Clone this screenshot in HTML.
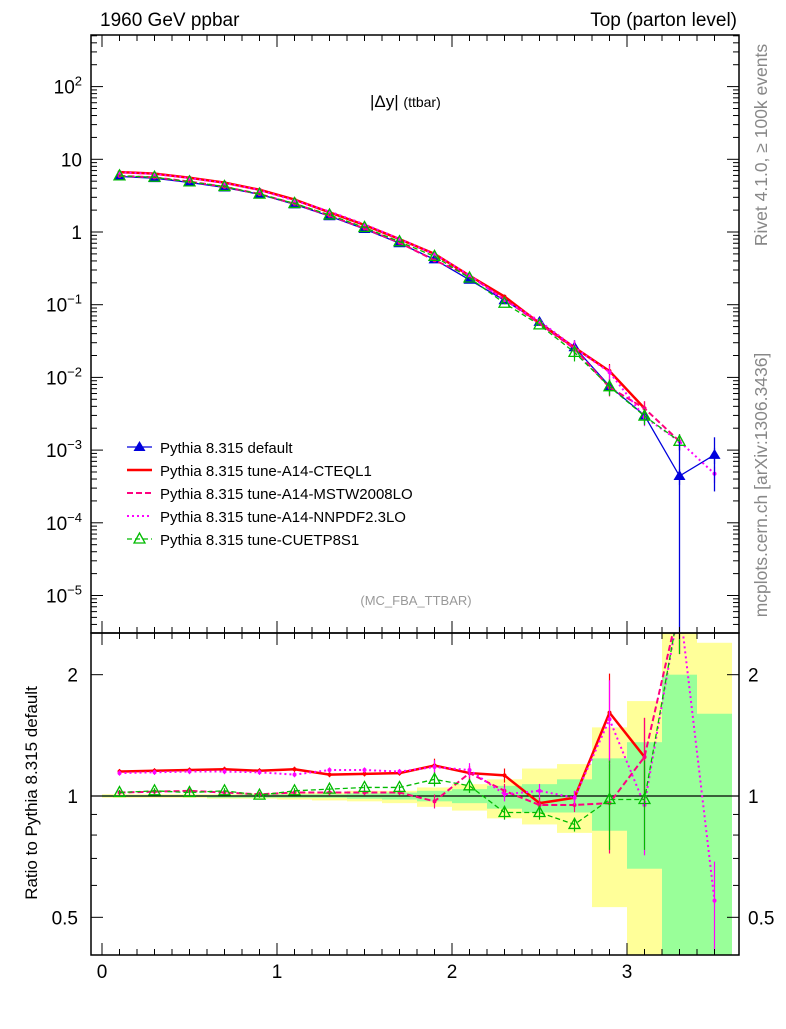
<!DOCTYPE html>
<html><head><meta charset="utf-8"><style>
body{margin:0;background:#fff}
svg{font-family:"Liberation Sans",sans-serif}
</style></head><body>
<svg id="c" width="786" height="1024" xmlns="http://www.w3.org/2000/svg">
<rect width="786" height="1024" fill="#fff"/>
<g id="bands"></g>
<g id="main"></g>
<g id="ratio"></g>
<g id="axes"></g>
<text x="100" y="26" font-size="19">1960 GeV ppbar</text>
<text x="737" y="26" font-size="19" text-anchor="end">Top (parton level)</text>
<text x="370" y="107" font-size="17">|Δy| <tspan font-size="14">(ttbar)</tspan></text>
<text x="416" y="605" font-size="13" fill="#999" text-anchor="middle">(MC_FBA_TTBAR)</text>
<text transform="translate(767,145) rotate(-90)" font-size="17.5" fill="#888" text-anchor="middle">Rivet 4.1.0, ≥ 100k events</text>
<text transform="translate(767,485) rotate(-90)" font-size="17.5" fill="#888" text-anchor="middle">mcplots.cern.ch [arXiv:1306.3436]</text>
<text transform="translate(37,793) rotate(-90)" font-size="17" text-anchor="middle">Ratio to Pythia 8.315 default</text>
<g id="legend"></g>
</svg>
<script>
const xs = [0.1,0.3,0.5,0.7,0.9,1.1,1.3,1.5,1.7,1.9,2.1,2.3,2.5,2.7,2.9,3.1,3.3,3.5];
const vDefault = [5.8,5.5,4.8,4.1,3.3,2.4,1.65,1.1,0.7,0.42,0.22,0.115,0.058,0.026,0.0076,0.003,0.00044,0.00086];
const rCTEQ  = [1.15,1.155,1.16,1.165,1.155,1.165,1.13,1.135,1.14,1.19,1.14,1.125,0.96,0.99,1.61,1.25,null,null];
const rMSTW  = [1.02,1.025,1.03,1.02,1.01,1.02,1.02,1.02,1.02,0.97,1.14,1.03,0.95,0.95,0.96,1.25,3.0,null];
const rNNPDF = [1.14,1.145,1.15,1.15,1.145,1.13,1.16,1.16,1.15,1.18,1.16,1.01,1.03,0.99,1.55,0.95,3.0,0.55];
const rCUET  = [1.02,1.03,1.02,1.03,1.005,1.03,1.04,1.05,1.05,1.10,1.06,0.91,0.91,0.85,0.98,0.98,3.0,null];
const yellowHi = [1.01,1.01,1.01,1.01,1.015,1.02,1.02,1.03,1.03,1.05,1.07,1.10,1.17,1.20,1.48,1.72,3.0,2.4];
const yellowLo = [0.99,0.99,0.99,0.985,0.985,0.98,0.975,0.97,0.96,0.94,0.92,0.88,0.85,0.81,0.53,0.3,0.3,0.3];
const greenHi  = [1.005,1.005,1.005,1.005,1.01,1.01,1.01,1.015,1.02,1.03,1.04,1.06,1.07,1.10,1.24,1.36,2.0,1.6];
const greenLo  = [0.995,0.995,0.995,0.99,0.99,0.99,0.99,0.985,0.98,0.97,0.96,0.93,0.91,0.91,0.82,0.66,0.3,0.3];
const yTickMain = ["10^-5","10^-4","10^-3","10^-2","10^-1","1","10","10^2"];
const NS="http://www.w3.org/2000/svg";
const X0=91,X1=739,MT=35,MB=633,RB=955;
const xp=v=>102+175*v;
const ym=v=>232-72.7*Math.log10(v);
const yr=v=>796-403*Math.log10(v);
function el(t,a,p){const e=document.createElementNS(NS,t);for(const k in a)e.setAttribute(k,a[k]);p.appendChild(e);return e;}
const svg=document.getElementById('c');
const defs=el('defs',{},svg);
const c1=el('clipPath',{id:'cm'},defs);el('rect',{x:X0,y:MT,width:X1-X0,height:MB-MT},c1);
const c2=el('clipPath',{id:'cr'},defs);el('rect',{x:X0,y:MB,width:X1-X0,height:RB-MB},c2);
const gB=document.getElementById('bands');gB.setAttribute('clip-path','url(#cr)');
const gM=document.getElementById('main');gM.setAttribute('clip-path','url(#cm)');
const gR=document.getElementById('ratio');gR.setAttribute('clip-path','url(#cr)');
xs.forEach((x,i)=>{
  const a=xp(x-0.1),w=175*0.2;
  const r1=el('rect',{x:a,y:yr(yellowHi[i]),width:w,height:yr(yellowLo[i])-yr(yellowHi[i]),fill:'#ffff99'},gB);
  
  
  const r2=el('rect',{x:a,y:yr(greenHi[i]),width:w,height:yr(greenLo[i])-yr(greenHi[i]),fill:'#99ff99'},gB);
  
  
});
const series=[
 {n:'default',r:null,c:'#0000dd',w:1.3,d:'',m:'tri'},
 {n:'cteql1',r:rCTEQ,c:'#ff0000',w:2.5,d:'',m:'dot'},
 {n:'mstw',r:rMSTW,c:'#ff0080',w:2,d:'6,3',m:'dot'},
 {n:'nnpdf',r:rNNPDF,c:'#ff00ff',w:2,d:'2,3',m:'dot'},
 {n:'cuetp8s1',r:rCUET,c:'#00bb00',w:1.3,d:'5,3',m:'otri'}
];
function poly(g,pts,s,name){
  let segs=[],cur=[];
  pts.forEach(p=>{if(p)cur.push(p);else{if(cur.length)segs.push(cur);cur=[];}});
  if(cur.length)segs.push(cur);
  segs.forEach(sg=>{
    const pl=el('polyline',{points:sg.map(p=>p.join(',')).join(' '),fill:'none',stroke:s.c,'stroke-width':s.w,'stroke-dasharray':s.d},g);
    
    
  });
}
function marker(g,x,y,s){
  let m;
  if(s.m=='tri')m=el('path',{d:`M${x},${y-6}L${x+6},${y+4}L${x-6},${y+4}Z`,fill:s.c},g);
  else if(s.m=='otri')m=el('path',{d:`M${x},${y-6}L${x+5.5},${y+4}L${x-5.5},${y+4}Z`,fill:'none',stroke:s.c,'stroke-width':1.3},g);
  else m=el('circle',{cx:x,cy:y,r:2,fill:s.c},g);
  
  
}
series.forEach(s=>{
  const vals=xs.map((x,i)=>s.r?(s.r[i]==null?null:vDefault[i]*s.r[i]):vDefault[i]);
  poly(gM,xs.map((x,i)=>vals[i]==null?null:[xp(x),ym(vals[i])]),s,s.n+'-line');
  xs.forEach((x,i)=>{if(vals[i]!=null){
    const e=vals[i]*(i>=13?0.25:0.03);
    const eb=el('line',{x1:xp(x),x2:xp(x),y1:ym(vals[i]+e),y2:ym(Math.max(vals[i]-e,1e-7)),stroke:s.c,'stroke-width':1.2},gM);
    
    
    marker(gM,xp(x),ym(vals[i]),s);}});
});
[[16,0.0013,1e-7],[17,0.0015,0.00027]].forEach(([i,h,l])=>{
  const eb=el('line',{x1:xp(xs[i]),x2:xp(xs[i]),y1:ym(h),y2:ym(l),stroke:'#0000dd','stroke-width':1.3},gM);
  
  
});
const ref=el('line',{x1:X0,x2:X1,y1:yr(1),y2:yr(1),stroke:'#000','stroke-width':1.2},gR);


series.slice(1).forEach(s=>{
  poly(gR,xs.map((x,i)=>s.r[i]==null?null:[xp(x),yr(s.r[i])]),s,s.n+'-ratio-line');
  xs.forEach((x,i)=>{if(s.r[i]!=null){
    const e=i>=14?0.25:(i>=9?0.04:0.015);
    const eb=el('line',{x1:xp(x),x2:xp(x),y1:yr(s.r[i]*(1+e)),y2:yr(s.r[i]*(1-e)),stroke:s.c,'stroke-width':1.2},gR);
    
    
    marker(gR,xp(x),yr(s.r[i]),s);}});
});
const gA=document.getElementById('axes');
el('rect',{x:X0,y:MT,width:X1-X0,height:MB-MT,fill:'none',stroke:'#000','stroke-width':1.5},gA);
el('rect',{x:X0,y:MB,width:X1-X0,height:RB-MB,fill:'none',stroke:'#000','stroke-width':1.5},gA);
for(let v=0;v<=3.6;v+=0.1){const x=xp(v),big=Math.abs(v-Math.round(v))<1e-6,L=big?12:6;
  [[MT,1],[MB,-1],[MB,1],[RB,-1]].forEach(([y,d])=>el('line',{x1:x,x2:x,y1:y,y2:y+d*L,stroke:'#000'},gA));}
[0,1,2,3].forEach(v=>{const t=el('text',{x:xp(v),y:978,'font-size':19,'text-anchor':'middle'},gA);t.textContent=v;
  });
for(let e=-6;e<=2;e++){for(let k=1;k<10;k++){const v=k*Math.pow(10,e),y=ym(v);if(y<MT||y>MB)continue;
  const L=k==1?12:6;el('line',{x1:X0,x2:X0+L,y1:y,y2:y,stroke:'#000'},gA);el('line',{x1:X1,x2:X1-L,y1:y,y2:y,stroke:'#000'},gA);}}
yTickMain.forEach((s,i)=>{const e=i-5,y=ym(Math.pow(10,e));const t=el('text',{x:82,y:y+7,'font-size':19,'text-anchor':'end'},gA);
  if(s.includes('^')){const [b,p]=s.split('^');t.textContent=b;const ts=el('tspan',{dy:-8,'font-size':13},t);ts.textContent=p.replace('-','−');}
  else t.textContent=s;
  });
[0.5,0.6,0.7,0.8,0.9,1,2].forEach(v=>{const y=yr(v),L=(v==0.5||v==1||v==2)?12:6;
  el('line',{x1:X0,x2:X0+L,y1:y,y2:y,stroke:'#000'},gA);el('line',{x1:X1,x2:X1-L,y1:y,y2:y,stroke:'#000'},gA);});
[[2,'2'],[1,'1'],[0.5,'0.5']].forEach(([v,s])=>{
  const t=el('text',{x:78,y:yr(v)+7,'font-size':19,'text-anchor':'end'},gA);t.textContent=s;
  
  const t2=el('text',{x:748,y:yr(v)+7,'font-size':19},gA);t2.textContent=s;
  });
const labels=['Pythia 8.315 default','Pythia 8.315 tune-A14-CTEQL1','Pythia 8.315 tune-A14-MSTW2008LO','Pythia 8.315 tune-A14-NNPDF2.3LO','Pythia 8.315 tune-CUETP8S1'];
const gL=document.getElementById('legend');
series.forEach((s,i)=>{const y=447+23*i;
  const g=el('g',{},gL);
  el('line',{x1:127,x2:152,y1:y,y2:y,stroke:s.c,'stroke-width':s.w,'stroke-dasharray':s.d},g);
  if(s.m!='dot')marker(g,139.5,y,s);
  const t=el('text',{x:160,y:y+6,'font-size':15},g);t.textContent=labels[i];});
</script>
</body></html>
